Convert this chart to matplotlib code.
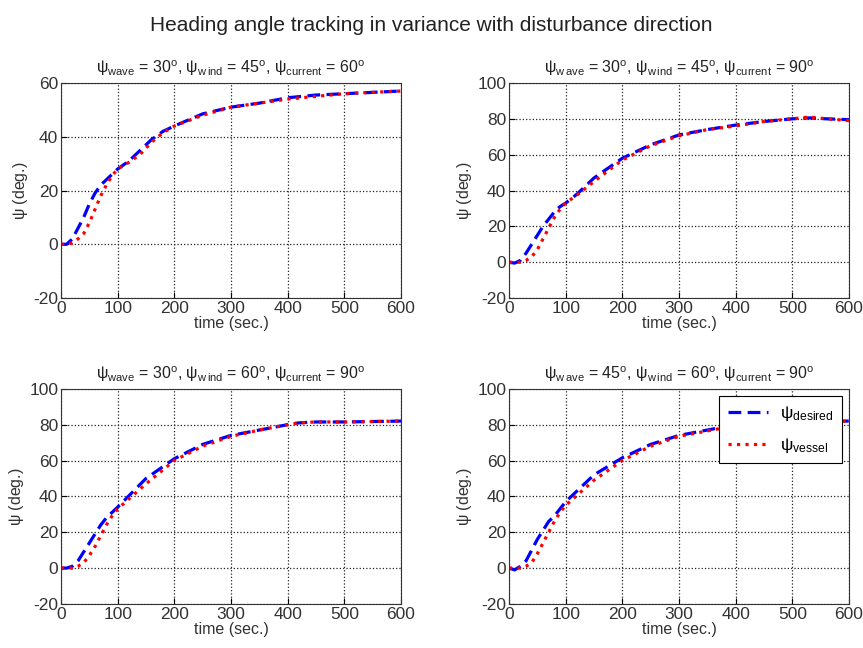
import matplotlib.pyplot as plt

plt.rcParams['font.family'] = ['Liberation Sans', 'DejaVu Sans']
plt.rcParams['mathtext.fontset'] = 'custom'
plt.rcParams['mathtext.rm'] = 'Liberation Sans'
plt.rcParams['mathtext.it'] = 'Liberation Sans'
plt.rcParams['axes.unicode_minus'] = False

# time samples (sec.) and heading angles (deg.) for each disturbance case
t1 = [0, 10, 20, 30, 40, 50, 60, 70, 80, 90, 100, 120, 140, 160, 180, 200, 250, 300, 350, 400, 450, 500, 550, 600]
desired1 = [0, 0, 2, 6, 10, 15, 19, 22, 24, 26, 28, 31, 35, 39, 42, 44, 48.5, 51, 52.5, 54.5, 55.5, 56, 56.5, 57]
vessel1 = [0, 0, 0.5, 2, 4, 8, 13, 18, 22, 25.5, 28, 30.5, 33.5, 38, 41.5, 44, 48, 51, 52.5, 54, 55, 56, 56.5, 57]

t2 = [0, 10, 20, 30, 40, 50, 60, 70, 80, 90, 100, 120, 150, 200, 250, 300, 350, 400, 450, 500, 530, 560, 600]
desired2 = [0, -0.5, 1, 5, 10, 15, 20, 24, 28, 31, 33, 38, 47, 58, 65.5, 71, 74, 76.5, 78.5, 80, 80.5, 80, 79.5]
vessel2 = [0, 0, 0, 1, 3, 7, 13, 19, 25, 29.5, 33, 37.5, 45, 57, 65, 70.5, 74, 76, 78.5, 80, 81, 80, 79]

t3 = [0, 10, 20, 30, 40, 50, 60, 70, 80, 90, 100, 150, 200, 250, 300, 350, 400, 420, 450, 500, 600]
desired3 = [0, 0, 1, 4, 9, 14, 19, 24, 28, 31, 34, 50, 61, 69, 74, 77, 80, 81, 81.5, 81.5, 82]
vessel3 = [0, 0, 0, 1, 3, 7, 12, 18, 24, 29, 33, 47, 60, 68, 73.5, 77, 80, 81, 81.5, 81.5, 82]

t4 = [0, 10, 20, 30, 40, 50, 60, 70, 80, 90, 100, 150, 200, 250, 300, 350, 400, 450, 500, 600]
desired4 = [0, -1, 1, 4, 10, 16, 21, 26, 29, 33, 37, 52, 61.5, 69, 74, 77, 80, 81, 81.5, 82]
vessel4 = [0, 0, 0, 1, 3, 8, 14, 20, 26, 31, 35, 49, 60, 68, 73.5, 76.5, 79.5, 81, 81.5, 82]

titles = [
    r'$\mathregular{\psi_{wave}}$ = 30$^{\mathregular{o}}$, $\mathregular{\psi_{w\,ind}}$ = 45$^{\mathregular{o}}$, $\mathregular{\psi_{current}}$ = 60$^{\mathregular{o}}$',
    r'$\mathregular{\psi_{w\,ave}}$ = 30$^{\mathregular{o}}$, $\mathregular{\psi_{w\,ind}}$ = 45$^{\mathregular{o}}$, $\mathregular{\psi_{current}}$ = 90$^{\mathregular{o}}$',
    r'$\mathregular{\psi_{wave}}$ = 30$^{\mathregular{o}}$, $\mathregular{\psi_{w\,ind}}$ = 60$^{\mathregular{o}}$, $\mathregular{\psi_{current}}$ = 90$^{\mathregular{o}}$',
    r'$\mathregular{\psi_{w\,ave}}$ = 45$^{\mathregular{o}}$, $\mathregular{\psi_{w\,ind}}$ = 60$^{\mathregular{o}}$, $\mathregular{\psi_{current}}$ = 90$^{\mathregular{o}}$',
]
ylims = [(-20, 60), (-20, 100), (-20, 100), (-20, 100)]
cases = [(t1, desired1, vessel1), (t2, desired2, vessel2),
         (t3, desired3, vessel3), (t4, desired4, vessel4)]

fig = plt.figure(figsize=(8.63, 6.48), dpi=100)
fig.suptitle('Heading angle tracking in variance with disturbance direction',
             fontsize=15, y=0.975, color='#222222')

positions = [[0.0707, 0.540, 0.394, 0.332], [0.5898, 0.540, 0.394, 0.332],
             [0.0707, 0.068, 0.394, 0.332], [0.5898, 0.068, 0.394, 0.332]]

for i, (t, des, ves) in enumerate(cases):
    ax = fig.add_axes(positions[i])
    ax.plot(t, des, color='blue', linestyle='--', linewidth=2.3, dashes=(4, 2),
            label=r'$\mathregular{\psi_{desired}}$')
    ax.plot(t, ves, color='red', linestyle=':', linewidth=2.3,
            label=r'$\mathregular{\psi_{vessel}}$')
    ax.set_xlim(0, 600)
    ax.set_ylim(*ylims[i])
    ax.set_xticks(range(0, 601, 100))
    ax.set_yticks(range(ylims[i][0], ylims[i][1] + 1, 20))
    ax.grid(True, color='#222222', linestyle=':', linewidth=0.9)
    ax.tick_params(direction='in', labelsize=12.5, length=4,
                   labelcolor='#333333', pad=2)
    ax.set_xlabel('time (sec.)', fontsize=11.5, labelpad=0, color='#333333')
    ax.set_ylabel(r'$\mathregular{\psi}$ (deg.)', fontsize=11.5, labelpad=2,
                  color='#333333')
    ax.set_title(titles[i], fontsize=11.5, pad=7, color='#222222')
    for s in ax.spines.values():
        s.set_color('#333333')
    if i == 3:
        leg = ax.legend(loc='upper right', fancybox=False, edgecolor='black',
                        framealpha=1, fontsize=12.5, borderaxespad=0.4,
                        handlelength=2.3, handletextpad=0.7,
                        labelspacing=0.7, borderpad=0.5)
        leg.get_frame().set_linewidth(0.8)

fig.savefig('out.png', dpi=100)
